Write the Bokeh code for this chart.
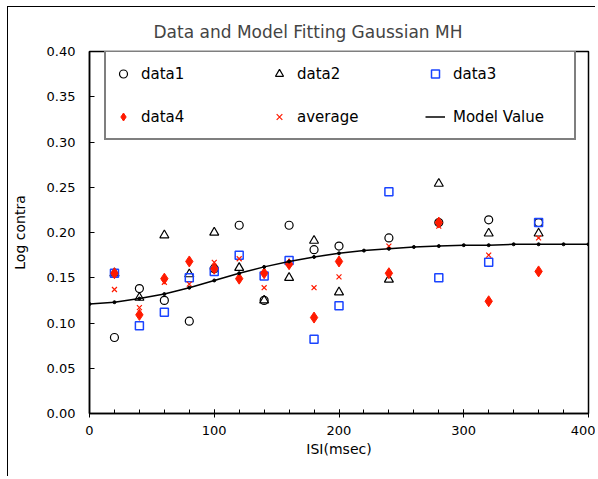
from bokeh.plotting import figure
from bokeh.models import Legend, LegendItem, FixedTicker, Range1d
from bokeh.embed import file_html
from bokeh.resources import INLINE

# ---- data ----
x_vals = [20, 40, 60, 80, 100, 120, 140, 160, 180, 200, 240, 280, 320, 360]
data1 = [0.084, 0.138, 0.125, 0.102, 0.160, 0.208, 0.125, 0.208, 0.181, 0.185, 0.194, 0.211, 0.214, 0.211]
data2 = [0.155, 0.128, 0.197, 0.154, 0.200, 0.161, 0.125, 0.150, 0.191, 0.134, 0.148, 0.254, 0.199, 0.199]
data3 = [0.155, 0.097, 0.112, 0.150, 0.157, 0.175, 0.152, 0.169, 0.082, 0.119, 0.245, 0.150, 0.167, 0.211]
data4 = [0.155, 0.109, 0.149, 0.168, 0.160, 0.149, 0.155, 0.165, 0.106, 0.168, 0.155, 0.211, 0.124, 0.157]
average = [0.137, 0.117, 0.145, 0.143, 0.167, 0.171, 0.139, 0.166, 0.139, 0.151, 0.185, 0.207, 0.175, 0.194]

model_x = [0, 20, 40, 60, 80, 100, 120, 140, 160, 180, 200, 220, 240, 260, 280, 300, 320, 340, 360, 380, 400]
model_y = [0.121, 0.123, 0.127, 0.132, 0.139, 0.147, 0.155, 0.162, 0.168, 0.173, 0.177, 0.180, 0.182,
           0.184, 0.185, 0.186, 0.186, 0.187, 0.187, 0.187, 0.187]

x_ticks = [0, 100, 200, 300, 400]
y_ticks = [0.0, 0.05, 0.10, 0.15, 0.20, 0.25, 0.30, 0.35, 0.40]
y_tick_labels = ["0.00", "0.05", "0.10", "0.15", "0.20", "0.25", "0.30", "0.35", "0.40"]

FONT = "DejaVu Sans"
RED = "#FF1A00"
BLUE = "#1A44FF"

p = figure(width=588, height=470, output_backend="svg", toolbar_location=None,
           x_range=Range1d(0, 400), y_range=Range1d(0, 0.40),
           min_border_left=80, min_border_right=8, min_border_top=44, min_border_bottom=64,
           styles={"border-left": "1px solid black", "border-top": "1px solid black",
                   "margin-left": "7px", "margin-top": "6px"})

p.title.text = "Data and Model Fitting Gaussian MH"
p.title.text_font = FONT
p.title.text_font_size = "17px"
p.title.text_font_style = "normal"
p.title.align = "left"
p.title.offset = 64
p.title.standoff = 19

p.xgrid.visible = False
p.ygrid.visible = False
p.outline_line_color = "black"
p.outline_line_width = 1.5
p.background_fill_color = "white"
p.border_fill_color = "white"

# axes
p.xaxis.ticker = FixedTicker(ticks=x_ticks, minor_ticks=list(range(0, 401, 20)))
p.xaxis.axis_label = "ISI(msec)"
p.xaxis.major_tick_in = 4
p.xaxis.major_tick_out = 4
p.xaxis.minor_tick_in = 4
p.xaxis.minor_tick_out = 0
p.xaxis.major_label_standoff = 8
p.xaxis.axis_label_standoff = 3

p.yaxis.ticker = FixedTicker(ticks=y_ticks)
p.yaxis.major_label_overrides = {t: l for t, l in zip(y_ticks, y_tick_labels)}
p.yaxis.axis_label = "Log contra"
p.yaxis.major_tick_in = 5
p.yaxis.major_tick_out = 0
p.yaxis.major_label_standoff = 14
p.yaxis.axis_label_standoff = 16

for ax in (p.xaxis[0], p.yaxis[0]):
    ax.axis_line_color = "black"
    ax.axis_line_width = 1.5
    ax.major_tick_line_color = "black"
    ax.major_label_text_font = FONT
    ax.major_label_text_font_size = "13px"
    ax.major_label_text_color = "black"
    ax.axis_label_text_font = FONT
    ax.axis_label_text_font_size = "14px"
    ax.axis_label_text_font_style = "normal"
    ax.axis_label_text_color = "black"
p.xaxis.minor_tick_line_color = "black"
p.yaxis.minor_tick_line_color = None

# glyphs
r1 = p.scatter(x_vals, data1, marker="circle", size=8, fill_color=None, line_color="black", line_width=1.2)
r2 = p.scatter(x_vals, data2, marker="triangle", size=9, fill_color=None, line_color="black", line_width=1.2)
r3 = p.scatter(x_vals, data3, marker="square", size=8, fill_color=None, line_color=BLUE, line_width=1.5)
r4 = p.scatter(x_vals, data4, marker="diamond", size=11, fill_color=RED, line_color=RED)
r5 = p.scatter(x_vals, average, marker="x", size=7, line_color=RED, line_width=1.2)
r6 = p.line(model_x, model_y, line_color="black", line_width=1.5)
r7 = p.scatter(model_x, model_y, marker="circle", size=3, fill_color="black", line_color="black")

# legend items are laid out column by column
legend = Legend(items=[
    LegendItem(label="data1", renderers=[r1]),
    LegendItem(label="data4", renderers=[r4]),
    LegendItem(label="data2", renderers=[r2]),
    LegendItem(label="average", renderers=[r5]),
    LegendItem(label="data3", renderers=[r3]),
    LegendItem(label="Model Value", renderers=[r6]),
], ncols=3, location=(15, 273))
legend.label_text_font = FONT
legend.label_text_font_size = "15px"
legend.label_text_color = "black"
legend.border_line_color = "black"
legend.border_line_width = 2
legend.background_fill_color = "white"
legend.background_fill_alpha = 1
legend.padding = 7
legend.spacing = 14
legend.glyph_height = 29
legend.glyph_width = 20
legend.label_standoff = 8
legend.label_width = 114
legend.margin = 0
p.add_layout(legend, "center")

open("out.html", "w").write(file_html(p, INLINE))
